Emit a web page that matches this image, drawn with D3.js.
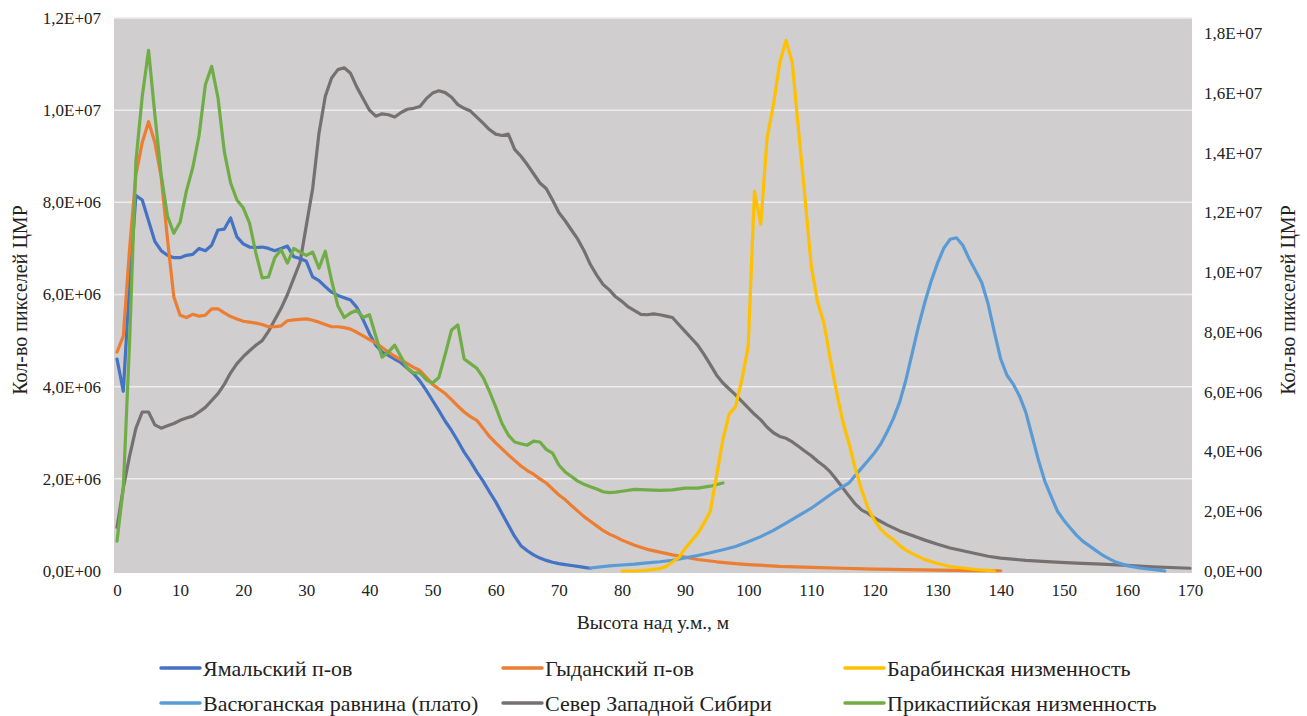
<!DOCTYPE html>
<html><head><meta charset="utf-8">
<script src="https://cdn.jsdelivr.net/npm/d3@7"></script>
<style>body{margin:0;background:#fff}svg{display:block}svg text{fill:#222}</style>
</head><body>
<script>
// ---- data (values in pixel counts, millions) ----
const xTicks = [0,10,20,30,40,50,60,70,80,90,100,110,120,130,140,150,160,170];
const leftTicks = [0,2e6,4e6,6e6,8e6,1e7,1.2e7];
const rightTicks = [0,2e6,4e6,6e6,8e6,1e7,1.2e7,1.4e7,1.6e7,1.8e7];

const yamalX = [0,1,2,3,4,5,6,7,8,9,10,11,12,13,14,15,16,17,18,19,20,21,22,23,24,25,26,27,28,29,30,31,32,33,34,35,36,37,38,39,40,41,42,43,44,45,46,47,48,49,50,51,52,53,54,55,56,57,58,59,60,61,62,63,64,65,66,67,68,69,70,71,72,73,74,75];
const yamalY = [4.6,3.9,6.3,8.15,8.05,7.6,7.15,6.95,6.85,6.8,6.8,6.85,6.87,7.0,6.95,7.07,7.4,7.42,7.66,7.25,7.1,7.03,7.02,7.03,7.0,6.95,7.0,7.05,6.82,6.78,6.72,6.38,6.3,6.17,6.05,5.98,5.93,5.88,5.72,5.45,5.15,4.9,4.75,4.68,4.6,4.52,4.4,4.28,4.12,3.92,3.7,3.48,3.25,3.05,2.82,2.58,2.38,2.15,1.95,1.72,1.5,1.25,1.0,0.75,0.55,0.44,0.35,0.28,0.23,0.19,0.16,0.14,0.12,0.1,0.08,0.06];

const gydanX = [0,1,2,3,4,5,6,7,8,9,10,11,12,13,14,15,16,17,18,19,20,21,22,23,24,25,26,27,28,29,30,31,32,33,34,35,36,37,38,39,40,41,42,43,44,45,46,47,48,49,50,51,52,53,54,55,56,57,58,59,60,61,62,63,64,65,66,67,68,69,70,71,72,73,74,75,76,77,78,79,80,82,84,86,88,90,92,95,98,100,105,110,115,120,125,130,135,140];
const gydanY = [4.75,5.1,7.0,8.6,9.3,9.75,9.3,8.55,7.2,5.95,5.55,5.5,5.57,5.53,5.55,5.69,5.69,5.6,5.52,5.47,5.42,5.4,5.38,5.35,5.3,5.3,5.32,5.43,5.45,5.46,5.47,5.44,5.4,5.35,5.3,5.3,5.28,5.25,5.18,5.1,5.02,4.95,4.85,4.75,4.66,4.58,4.5,4.42,4.35,4.2,4.05,3.95,3.85,3.72,3.58,3.45,3.35,3.27,3.1,2.92,2.78,2.65,2.52,2.4,2.28,2.18,2.1,2.0,1.91,1.78,1.65,1.55,1.42,1.3,1.18,1.08,0.98,0.88,0.8,0.74,0.67,0.56,0.47,0.41,0.35,0.3,0.25,0.2,0.16,0.14,0.1,0.08,0.06,0.04,0.03,0.02,0.01,0.005];

const barabaX = [80,82,84,86,87,88,89,90,91,92,93,94,95,96,97,98,99,100,101,102,103,104,105,106,107,108,109,110,111,112,113,114,115,116,117,118,119,120,121,122,123,124,125,126,128,130,132,134,136,138,139];
const barabaY = [0.0,0.0,0.03,0.08,0.15,0.3,0.45,0.75,1.0,1.25,1.6,2.0,3.2,4.4,5.25,5.5,6.4,7.5,12.7,11.6,14.5,15.6,17.0,17.75,17.0,14.7,12.5,10.2,9.0,8.3,7.1,6.0,5.0,4.25,3.4,2.7,2.1,1.7,1.4,1.2,1.05,0.85,0.7,0.58,0.38,0.25,0.15,0.1,0.05,0.02,0.0];

const vasyuganX = [75,78,80,82,84,86,88,90,92,94,96,98,100,102,104,106,108,110,112,114,116,118,119,120,121,122,123,124,125,126,127,128,129,130,131,132,133,134,135,136,137,138,139,140,141,142,143,144,145,146,147,148,149,150,151,152,153,154,155,156,157,158,160,162,164,166];
const vasyuganY = [0.1,0.17,0.2,0.23,0.27,0.31,0.36,0.44,0.52,0.61,0.71,0.82,0.98,1.15,1.36,1.6,1.85,2.1,2.4,2.7,2.95,3.45,3.7,3.95,4.25,4.65,5.1,5.65,6.4,7.3,8.2,9.0,9.7,10.3,10.8,11.1,11.15,10.9,10.45,10.05,9.65,8.95,8.0,7.1,6.55,6.25,5.85,5.3,4.5,3.7,3.0,2.5,2.0,1.7,1.45,1.2,1.0,0.85,0.7,0.55,0.43,0.32,0.18,0.1,0.05,0.0];

const sibirX = [0,1,2,3,4,5,6,7,8,9,10,11,12,13,14,15,16,17,18,19,20,21,22,23,24,25,26,27,28,29,30,31,32,33,34,35,36,37,38,39,40,41,42,43,44,45,46,47,48,49,50,51,52,53,54,55,56,57,58,59,60,61,62,63,64,65,66,67,68,69,70,71,72,73,74,75,76,77,78,79,80,81,82,83,84,85,86,87,88,89,90,91,92,93,94,95,96,97,98,99,100,101,102,103,104,105,106,107,108,109,110,111,112,113,114,115,116,117,118,119,120,122,124,126,128,130,132,134,136,138,140,144,148,152,156,160,164,168,170];
const sibirY = [0.95,1.8,2.5,3.1,3.45,3.45,3.17,3.1,3.15,3.2,3.27,3.32,3.36,3.45,3.55,3.7,3.85,4.05,4.3,4.5,4.65,4.78,4.9,5.0,5.2,5.45,5.7,6.0,6.35,6.7,7.5,8.3,9.5,10.3,10.7,10.88,10.92,10.8,10.5,10.25,10.0,9.87,9.92,9.9,9.85,9.95,10.02,10.04,10.08,10.25,10.37,10.42,10.38,10.28,10.12,10.04,9.98,9.85,9.72,9.58,9.48,9.45,9.48,9.15,9.0,8.82,8.62,8.42,8.3,8.05,7.78,7.6,7.4,7.2,6.95,6.65,6.42,6.22,6.1,5.95,5.85,5.73,5.65,5.57,5.56,5.58,5.56,5.53,5.5,5.35,5.2,5.05,4.9,4.7,4.48,4.25,4.08,3.95,3.82,3.68,3.54,3.4,3.28,3.12,3.0,2.92,2.88,2.8,2.7,2.6,2.5,2.38,2.28,2.15,1.98,1.8,1.62,1.45,1.32,1.25,1.15,1.0,0.87,0.77,0.67,0.58,0.5,0.44,0.38,0.32,0.28,0.23,0.2,0.17,0.15,0.12,0.09,0.07,0.06];

const caspianX = [0,1,2,3,4,5,6,7,8,9,10,11,12,13,14,15,16,17,18,19,20,21,22,23,24,25,26,27,28,29,30,31,32,33,34,35,36,37,38,39,40,41,42,43,44,45,46,47,48,49,50,51,52,53,54,55,56,57,58,59,60,61,62,63,64,65,66,67,68,69,70,71,72,73,74,75,76,77,78,79,80,82,84,86,88,90,92,94,96];
const caspianY = [0.65,1.8,5.0,8.9,10.3,11.3,9.9,8.6,7.7,7.33,7.57,8.25,8.75,9.45,10.55,10.95,10.27,9.1,8.42,8.05,7.88,7.55,6.9,6.36,6.38,6.8,6.97,6.68,7.0,6.92,6.85,6.92,6.57,6.94,6.3,5.75,5.5,5.6,5.66,5.5,5.56,5.1,4.64,4.75,4.9,4.65,4.4,4.3,4.3,4.15,4.08,4.2,4.7,5.23,5.34,4.6,4.5,4.4,4.2,3.9,3.56,3.2,2.95,2.8,2.76,2.73,2.82,2.8,2.64,2.56,2.3,2.15,2.05,1.95,1.88,1.83,1.78,1.72,1.7,1.71,1.73,1.77,1.76,1.75,1.76,1.8,1.8,1.84,1.91];

const seriesNames = ["Ямальский п-ов","Гыданский п-ов","Барабинская низменность","Васюганская равнина (плато)","Север Западной Сибири","Прикаспийская низменность"];
const seriesColors = ["#4472C4","#ED7D31","#FFC000","#5B9BD5","#767171","#70AD47"];
const seriesAxis = ["left","left","right","right","left","left"];
const seriesX = [yamalX,gydanX,barabaX,vasyuganX,sibirX,caspianX];
const seriesY = [yamalY,gydanY,barabaY,vasyuganY,sibirY,caspianY];
const unit = 1e6;

// ---- layout ----
const W = 1307, H = 716;
const x0 = 117, x1 = 1190, yB = 571, yTL = 18, yTR = 33;
const FONT = '"Liberation Serif","Times New Roman",serif';

const svg = d3.select("body").append("svg").attr("width", W).attr("height", H);

const x = d3.scaleLinear().domain([0,170]).range([x0,x1]);
const yL = d3.scaleLinear().domain([0,1.2e7]).range([yB,yTL]);
const yR = d3.scaleLinear().domain([0,1.8e7]).range([yB,yTR]);

svg.append("rect").attr("x", x0-3).attr("y", yTL).attr("width", x1-x0+5).attr("height", yB-yTL+2).attr("fill","#D0CECE");

svg.append("g").selectAll("line").data(leftTicks.slice(1)).join("line")
  .attr("x1", x0-3).attr("x2", x1+2)
  .attr("y1", d=>yL(d)).attr("y2", d=>yL(d))
  .attr("stroke","#EDEDED").attr("stroke-width",1.5);

const fmt = d => { if (d===0) return "0,0E+00"; const e = Math.floor(Math.log10(d)); const m = d/Math.pow(10,e); return m.toFixed(1).replace(".",",")+"E+"+String(e).padStart(2,"0"); };

function styleAxis(g){
  g.attr("font-family", FONT);
  g.select(".domain").remove();
  g.selectAll("text").attr("font-size",17).attr("fill","#222").attr("font-family", FONT);
}

const gL = svg.append("g").attr("transform",`translate(${x0-16},0)`)
  .call(d3.axisLeft(yL).tickValues(leftTicks).tickFormat(fmt).tickSize(0).tickPadding(0));
styleAxis(gL);

const gR = svg.append("g").attr("transform",`translate(${x1+14},0)`)
  .call(d3.axisRight(yR).tickValues(rightTicks).tickFormat(fmt).tickSize(0).tickPadding(0));
styleAxis(gR);

const gX = svg.append("g").attr("transform",`translate(0,${yB+10})`)
  .call(d3.axisBottom(x).tickValues(xTicks).tickFormat(d3.format("d")).tickSize(0).tickPadding(3));
styleAxis(gX);

svg.append("text").attr("x",653).attr("y",629).attr("text-anchor","middle").attr("font-size",19.5).attr("font-family",FONT).text("Высота над у.м., м");
svg.append("text").attr("transform","translate(27,300) rotate(-90)").attr("text-anchor","middle").attr("font-size",20).attr("font-family",FONT).text("Кол-во пикселей ЦМР");
svg.append("text").attr("transform","translate(1295,300) rotate(-90)").attr("text-anchor","middle").attr("font-size",20).attr("font-family",FONT).text("Кол-во пикселей ЦМР");

const order = [4,0,1,5,3,2];
order.forEach(i => {
  const ys = seriesAxis[i]==="left" ? yL : yR;
  const pts = seriesX[i].map((v,k)=>[v, seriesY[i][k]*unit]);
  const line = d3.line().x(d=>x(d[0])).y(d=>ys(d[1]));
  svg.append("path").datum(pts).attr("d", line).attr("fill","none")
    .attr("stroke", seriesColors[i]).attr("stroke-width",3.2)
    .attr("stroke-linejoin","round").attr("stroke-linecap","round");
});

const legCols = [161,503,845];
const legRows = [668,703];
seriesNames.forEach((n,i)=>{
  const cx = legCols[i%3], cy = legRows[Math.floor(i/3)];
  svg.append("line").attr("x1",cx).attr("x2",cx+39).attr("y1",cy).attr("y2",cy)
    .attr("stroke",seriesColors[i]).attr("stroke-width",3.5).attr("stroke-linecap","round");
  svg.append("text").attr("x",cx+42).attr("y",cy+8).attr("font-size",22).attr("font-family",FONT).text(n);
});
</script>
</body></html>
